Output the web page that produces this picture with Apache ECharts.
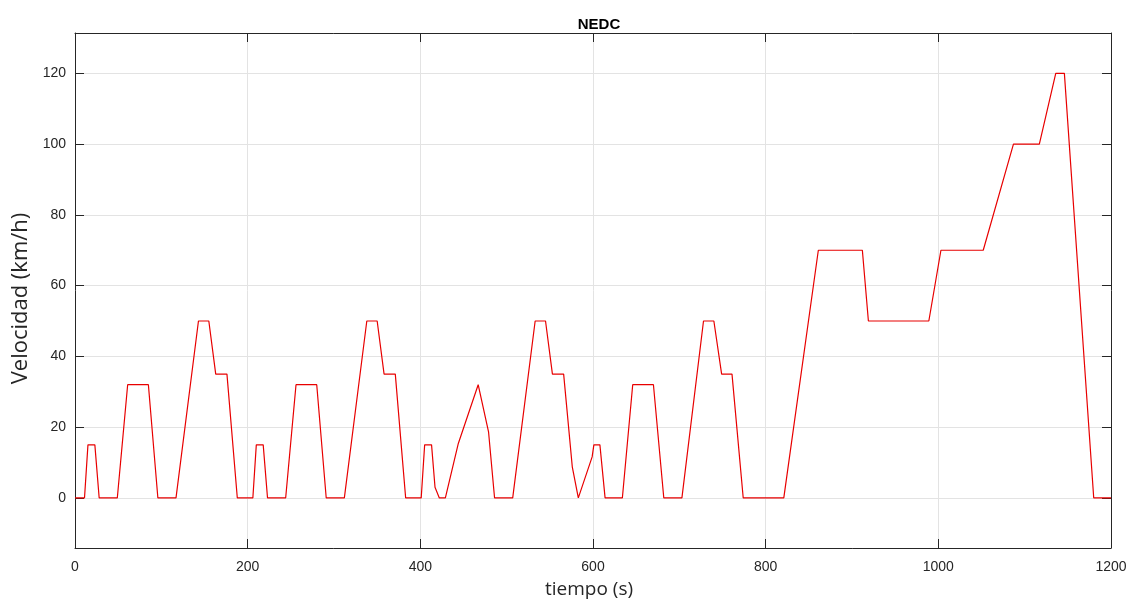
<!DOCTYPE html>
<html>
<head>
<meta charset="utf-8">
<script src="https://cdn.jsdelivr.net/npm/echarts@6/dist/echarts.min.js"></script>
<style>
html,body{margin:0;padding:0;background:#fff;}
#chart{width:1137px;height:606px;}
</style>
</head>
<body>
<div id="chart"></div>
<script>
// Time (s) breakpoints of the drawn cycle
const tiempo = [
  0, 11, 15, 23, 28, 49, 61, 85, 96, 117, 143, 155, 163, 176, 188,
  206, 210, 218, 223, 244, 256, 280, 291, 312, 338, 350, 358, 371, 383,
  401, 405, 413, 417, 422, 429, 444, 467, 479, 486, 507, 533, 545, 553, 566, 576, 583, 599, 601, 608, 614,
  634, 646, 670, 682, 703, 728, 740, 749, 761, 774,
  821, 861, 912, 919, 989, 1003, 1052, 1087, 1117, 1136, 1146, 1180, 1200
];
// Speed (km/h) at each breakpoint
const velocidad = [
  0, 0, 15, 15, 0, 0, 32, 32, 0, 0, 50, 50, 35, 35, 0,
  0, 15, 15, 0, 0, 32, 32, 0, 0, 50, 50, 35, 35, 0,
  0, 15, 15, 3, 0, 0, 15.4, 32, 18.7, 0, 0, 50, 50, 35, 35, 8.8, 0, 11.6, 15, 15, 0,
  0, 32, 32, 0, 0, 50, 50, 35, 35, 0,
  0, 70, 70, 50, 50, 70, 70, 100, 100, 120, 120, 0, 0
];
const yTicks = [0, 20, 40, 60, 80, 100, 120];
const xTicks = [0, 200, 400, 600, 800, 1000, 1200];
const titulo = 'NEDC';
const xNombre = 'tiempo (s)';
const yNombre = 'Velocidad (km/h)';

const points = tiempo.map((t, i) => [t, velocidad[i]]);

const axisColor = '#262626';
const gridColor = '#e3e3e3';
const font = 'Liberation Sans, Arial, sans-serif';
const yMin = -14.15, yMax = 131.4;

const chart = echarts.init(document.getElementById('chart'), null, {renderer: 'canvas'});
chart.setOption({
  animation: false,
  backgroundColor: '#ffffff',
  title: {
    text: titulo, left: 594, top: 12, textAlign: 'center',
    textStyle: {fontFamily: font, fontWeight: 'bold', fontSize: 15, color: '#000'}
  },
  grid: {left: 75, right: 26, top: 33, bottom: 58, containLabel: false},
  xAxis: [{
    type: 'value', min: 0, max: 1200, interval: 200, position: 'bottom',
    name: xNombre, nameLocation: 'middle', nameGap: 32,
    nameTextStyle: {fontFamily: 'Open Sans, sans-serif', fontSize: 19, color: '#262626', padding: [0, 8, 0, 0]},
    axisLine: {show: true, onZero: false, lineStyle: {color: axisColor, width: 1}},
    axisTick: {show: true, inside: true, length: 9, lineStyle: {color: axisColor}},
    axisLabel: {fontFamily: font, fontSize: 14, color: axisColor, margin: 12,
      formatter: v => xTicks.includes(v) ? String(v) : ''},
    splitLine: {show: true, lineStyle: {color: gridColor, width: 1}}
  }, {
    type: 'value', min: 0, max: 1200, interval: 200, position: 'top',
    axisLine: {show: true, onZero: false, lineStyle: {color: axisColor, width: 1}},
    axisTick: {show: true, inside: true, length: 9, lineStyle: {color: axisColor}},
    axisLabel: {show: false},
    splitLine: {show: false}
  }],
  yAxis: [{
    type: 'value', min: yMin, max: yMax, position: 'left',
    name: yNombre, nameLocation: 'middle', nameGap: 36, nameRotate: 90,
    nameTextStyle: {fontFamily: 'Open Sans, sans-serif', fontSize: 22, color: '#262626', padding: [0, 16, 0, 0]},
    axisLine: {show: true, onZero: false, lineStyle: {color: axisColor, width: 1}},
    axisTick: {show: true, inside: true, length: 9, customValues: yTicks, lineStyle: {color: axisColor}},
    axisLabel: {fontFamily: font, fontSize: 14, color: axisColor, margin: 9, customValues: yTicks},
    splitLine: {show: true, customValues: yTicks, lineStyle: {color: gridColor, width: 1}}
  }, {
    type: 'value', min: yMin, max: yMax, position: 'right',
    axisLine: {show: true, onZero: false, lineStyle: {color: axisColor, width: 1}},
    axisTick: {show: true, inside: true, length: 9, customValues: yTicks, lineStyle: {color: axisColor}},
    axisLabel: {show: false, customValues: yTicks},
    splitLine: {show: false}
  }],
  series: [{
    type: 'line', xAxisIndex: 0, yAxisIndex: 0,
    data: points, showSymbol: false, symbol: 'none',
    lineStyle: {color: '#e80000', width: 1.2},
    z: 10
  }]
});
</script>
</body>
</html>
